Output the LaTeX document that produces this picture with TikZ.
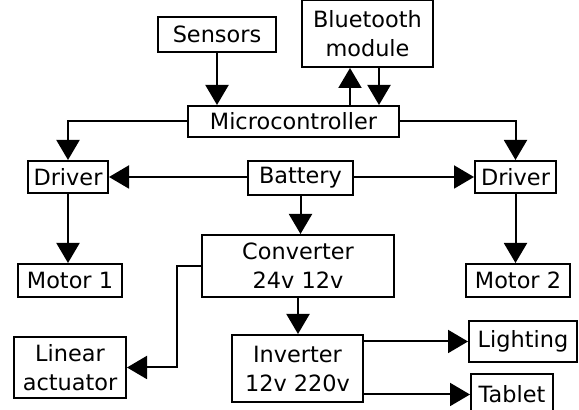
\documentclass[tikz,border=0pt]{standalone}
\usepackage{fontspec}
\setmainfont{DejaVu Sans}
\usetikzlibrary{arrows.meta,calc}

\tikzset{
  blk/.style={draw,line width=1pt,inner sep=0pt,align=center,
    font=\fontsize{11.2}{14.5}\selectfont},
  link/.style={line width=1pt,-{Triangle[width=11.5pt,length=10pt]}}
}

\begin{document}
\begin{tikzpicture}[x=0.5pt,y=-0.5pt]
    \useasboundingbox (0,0) rectangle (579,410);
    \clip (0,0) rectangle (579,410);
    % blocks
    \node[blk,minimum width=59pt,minimum height=17.5pt] (sens) at (217,34.5) {Sensors};
    \node[blk,minimum width=65.5pt,minimum height=33.5pt] (bt) at (367.5,33.5) {Bluetooth\\module};
    \node[blk,minimum width=105.5pt,minimum height=15.5pt] (mcu) at (293.5,121.5) {Microcontroller};
    \node[blk,minimum width=40pt,minimum height=16pt] (drvl) at (68,177) {Driver};
    \node[blk,minimum width=52.5pt,minimum height=17pt] (bat) at (300.5,178) {Battery};
    \node[blk,minimum width=40.5pt,minimum height=16pt] (drvr) at (515.5,177) {Driver};
    \node[blk,minimum width=96pt,minimum height=31pt] (conv) at (298,266) {Converter\\24v 12v};
    \node[blk,minimum width=52pt,minimum height=16.5pt] (mot1) at (70,280.5) {Motor 1};
    \node[blk,minimum width=52pt,minimum height=16.5pt] (mot2) at (518,280.5) {Motor 2};
    \node[blk,minimum width=65.5pt,minimum height=33.5pt] (inv) at (297.5,368.5) {Inverter\\12v 220v};
    \node[blk,minimum width=56pt,minimum height=30.5pt] (act) at (70,367.5) {Linear\\actuator};
    \node[blk,minimum width=54pt,minimum height=20.5pt] (light) at (523,341.5) {Lighting};
    \node[blk,minimum width=41pt,minimum height=20.5pt] (tab) at (512,394.5) {Tablet};
    \coordinate (bend) at (177,266);
    % connectors
    \draw[link] (sens) -- (sens |- mcu.north);
    \draw[link] (mcu.north -| 350,0) -- (bt.south -| 350,0);
    \draw[link] (bt.south -| 379,0) -- (mcu.north -| 379,0);
    \draw[link] (mcu.west) -| (drvl.north);
    \draw[link] (mcu.east) -| (drvr.north);
    \draw[link] (drvl.east -| bat.west) -- (drvl.east);
    \draw[link] (drvr.west -| bat.east) -- (drvr.west);
    \draw[link] (bat.south) -- (bat.south |- conv.north);
    \draw[link] (drvl) -- (drvl |- mot1.north);
    \draw[link] (drvr) -- (drvr |- mot2.north);
    \draw[link] (conv.west) -- (bend) |- (act.east);
    \draw[link] (conv.south) -- (conv.south |- inv.north);
    \draw[link] (inv.east |- light) -- (light.west);
    \draw[link] (inv.east |- tab) -- (tab.west);
\end{tikzpicture}
\end{document}
